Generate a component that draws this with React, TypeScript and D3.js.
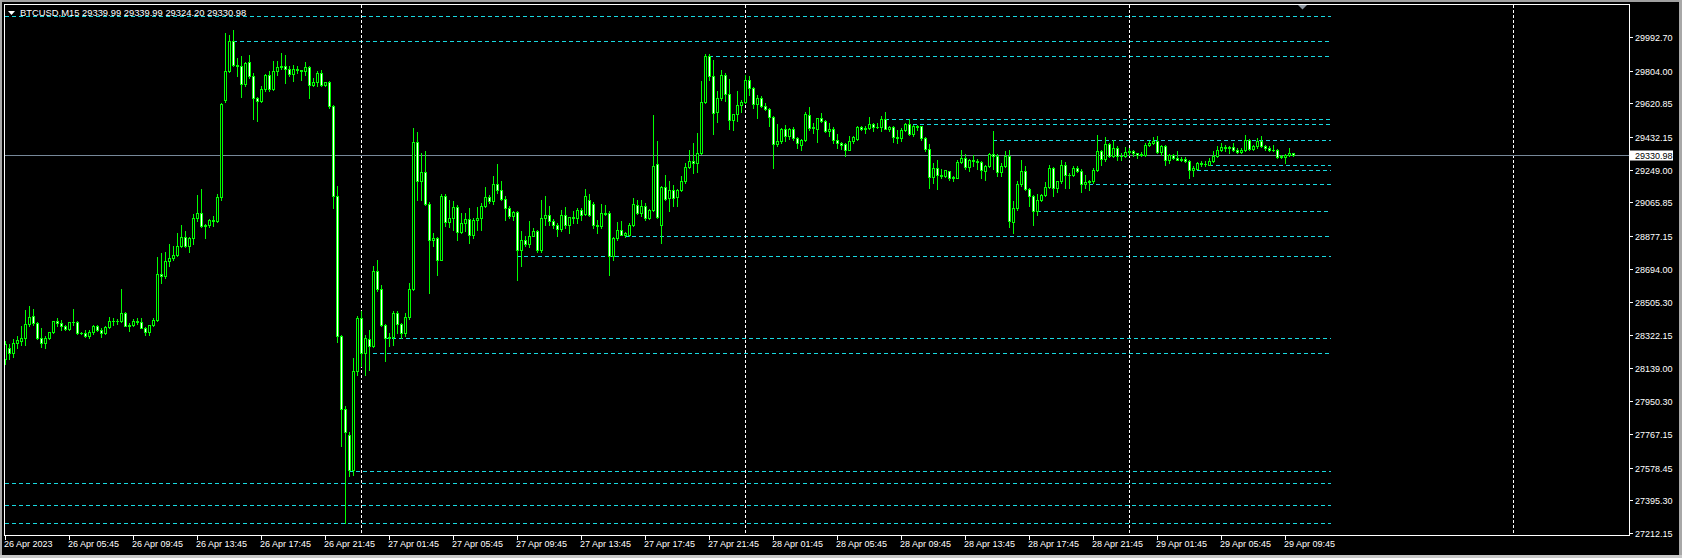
import * as d3 from 'd3';

// M15 bars, 26 Apr 2023 01:45 .. 29 Apr 2023 10:15
const opens = [
  28190,28250,28220,28277,28290,28305,28385,28430,28389,28305,
  28277,28305,28337,28399,28390,28374,28356,28393,28393,28333,
  28336,28314,28337,28374,28348,28333,28367,28399,28402,28399,
  28445,28374,28378,28399,28395,28361,28337,28380,28408,28664,
  28651,28735,28754,28772,28819,28871,28820,28868,28978,29006,
  28931,28940,28968,28960,29096,29641,29800,29970,29837,29830,
  29729,29850,29772,29650,29636,29701,29778,29701,29804,29825,
  29830,29815,29787,29813,29810,29800,29825,29722,29742,29790,
  29722,29740,29604,29099,28318,27907,27763,27567,28118,28417,
  28221,28300,28260,28679,28582,28376,28305,28310,28445,28385,
  28333,28422,28580,29402,29183,29234,29058,28853,28865,28744,
  29099,28954,28978,29039,28897,28950,28974,28884,28969,28978,
  29047,29096,29075,29170,29133,29085,29034,28990,29010,28797,
  28853,28830,28879,28903,28797,28978,28996,28960,28940,28916,
  28996,28940,28983,28978,29025,29003,29081,29058,28940,28935,
  29006,29006,28767,28866,28912,28884,28884,28940,29053,29006,
  29047,28978,29025,29282,28940,29152,29090,29137,29095,29137,
  29183,29264,29295,29286,29342,29628,29888,29772,29570,29650,
  29781,29673,29530,29562,29613,29627,29753,29706,29619,29650,
  29608,29590,29544,29393,29411,29478,29436,29478,29426,29389,
  29417,29553,29482,29476,29538,29520,29464,29478,29413,29398,
  29392,29360,29407,29420,29488,29478,29480,29506,29488,29486,
  29533,29476,29486,29432,29426,29473,29504,29450,29492,29492,
  29426,29364,29210,29258,29221,29216,29240,29206,29202,29292,
  29314,29264,29305,29300,29290,29240,29271,29338,29327,29234,
  29271,29327,28954,29034,29170,29240,29140,29099,29015,29080,
  29109,29152,29258,29146,29183,29277,29221,29217,29258,29243,
  29168,29178,29183,29249,29355,29310,29393,29327,29370,29323,
  29323,29346,29351,29342,29330,29333,29389,29398,29411,29346,
  29380,29301,29333,29314,29305,29310,29300,29245,29254,29286,
  29280,29277,29296,29327,29361,29375,29370,29375,29361,29346,
  29361,29413,29365,29380,29408,29380,29370,29358,29361,29320,
  29318,29333,29339.99,
];

const highs = [
  28290,28270,28300,28318,28370,28464,28486,28468,28395,28361,
  28318,28340,28400,28417,28408,28380,28395,28468,28400,28340,
  28352,28352,28380,28380,28361,28370,28421,28417,28412,28580,
  28450,28389,28410,28417,28417,28365,28380,28417,28759,28782,
  28785,28834,28823,28894,28940,28903,28871,29002,29109,29140,
  28945,28975,28991,29114,29620,30015,30005,30034,29875,29884,
  29850,29893,29790,29655,29720,29785,29800,29856,29856,29903,
  29893,29828,29837,29828,29810,29850,29832,29762,29800,29805,
  29740,29745,29610,29155,28320,27925,27776,28193,28430,28454,
  28320,28352,28707,28744,28600,28385,28333,28454,28454,28390,
  28445,28613,29482,29460,29342,29352,29065,28894,28870,29110,
  29110,29081,29072,29053,29006,29006,29034,28980,29041,29062,
  29152,29106,29215,29283,29183,29100,29045,29015,29015,28903,
  28875,28959,28922,28910,29081,29103,29043,28970,28950,29025,
  29039,28978,29015,29034,29034,29140,29110,29065,28969,29058,
  29053,29015,28870,28954,28959,28900,28950,29090,29081,29081,
  29060,29030,29557,29411,29160,29221,29183,29165,29140,29211,
  29286,29360,29398,29454,29744,29895,29895,29865,29692,29809,
  29790,29759,29560,29688,29640,29781,29776,29710,29669,29664,
  29622,29595,29550,29506,29480,29500,29480,29490,29430,29420,
  29570,29600,29510,29540,29566,29530,29510,29490,29450,29405,
  29400,29436,29440,29495,29495,29495,29544,29510,29510,29550,
  29572,29495,29492,29473,29480,29510,29532,29500,29497,29495,
  29430,29395,29286,29305,29250,29245,29240,29212,29305,29357,
  29338,29310,29333,29310,29295,29275,29345,29467,29335,29286,
  29351,29360,29071,29183,29305,29270,29145,29105,29110,29115,
  29178,29277,29262,29185,29305,29290,29230,29267,29267,29250,
  29221,29190,29258,29445,29362,29432,29400,29415,29383,29342,
  29375,29370,29361,29345,29346,29398,29408,29430,29436,29389,
  29385,29335,29336,29351,29320,29320,29305,29267,29290,29296,
  29296,29315,29351,29380,29398,29385,29380,29398,29370,29370,
  29445,29420,29389,29426,29440,29389,29380,29385,29365,29330,
  29335,29370,29339.99,
];

const lows = [
  28160,28190,28200,28250,28265,28268,28375,28380,28300,28254,
  28249,28300,28333,28370,28352,28350,28352,28380,28330,28328,
  28310,28305,28330,28345,28310,28330,28360,28380,28385,28395,
  28370,28342,28370,28385,28360,28324,28324,28375,28400,28613,
  28640,28707,28745,28765,28815,28815,28785,28834,28959,28925,
  28866,28930,28935,28955,29080,29626,29795,29832,29776,29654,
  29720,29765,29535,29520,29626,29690,29688,29695,29781,29813,
  29735,29772,29744,29790,29753,29781,29650,29716,29716,29716,
  29716,29595,29034,28281,27698,27268,27530,27539,28100,28146,
  28100,28128,28255,28570,28370,28174,28262,28268,28333,28305,
  28315,28410,28575,29081,29081,29050,28557,28820,28660,28740,
  28935,28930,28912,28853,28894,28903,28838,28866,28912,28912,
  29040,29060,29058,29118,29080,28969,28978,28969,28632,28707,
  28820,28818,28875,28790,28790,28940,28940,28921,28875,28903,
  28922,28894,28950,28950,28969,28996,28990,28922,28894,28922,
  28996,28660,28744,28856,28880,28870,28875,28935,29000,28987,
  28969,28970,29020,28978,28838,29080,29015,29043,29043,29130,
  29175,29260,29230,29234,29335,29620,29753,29450,29514,29640,
  29632,29478,29473,29520,29575,29620,29670,29592,29538,29598,
  29581,29492,29258,29380,29398,29407,29420,29417,29370,29360,
  29410,29473,29454,29402,29515,29460,29436,29398,29370,29364,
  29327,29360,29400,29415,29470,29454,29475,29464,29482,29464,
  29476,29464,29402,29398,29408,29468,29445,29436,29473,29417,
  29352,29146,29174,29140,29202,29210,29193,29183,29200,29286,
  29252,29240,29270,29250,29202,29190,29265,29250,29211,29211,
  29265,28927,28894,29025,29160,29135,29043,28940,28996,29075,
  29100,29146,29103,29122,29175,29146,29146,29212,29234,29122,
  29146,29137,29175,29240,29277,29300,29320,29320,29305,29305,
  29320,29333,29327,29314,29323,29323,29380,29393,29342,29333,
  29277,29286,29308,29301,29296,29290,29202,29215,29250,29271,
  29271,29275,29290,29320,29355,29355,29342,29355,29342,29342,
  29355,29361,29361,29370,29375,29361,29355,29355,29314,29314,
  29286,29327,29324.20,
];

const closes = [
  28270,28220,28280,28296,28305,28385,28423,28389,28305,28277,
  28305,28339,28399,28390,28374,28356,28393,28395,28333,28336,
  28314,28337,28374,28348,28333,28367,28399,28402,28399,28445,
  28374,28378,28399,28395,28361,28337,28380,28408,28664,28651,
  28735,28754,28772,28819,28871,28820,28868,28978,29006,28931,
  28940,28968,28960,29096,29617,29800,29970,29837,29830,29729,
  29847,29772,29650,29636,29701,29778,29701,29804,29825,29830,
  29815,29787,29813,29810,29800,29825,29722,29742,29790,29722,
  29740,29604,29099,28318,27907,27776,27567,28118,28417,28221,
  28305,28260,28679,28582,28376,28305,28310,28445,28385,28333,
  28422,28580,29402,29183,29234,29058,28853,28865,28744,29099,
  28954,28978,29039,28897,28950,28974,28884,28969,28978,29047,
  29096,29075,29170,29133,29085,29034,28990,29010,28797,28853,
  28830,28879,28903,28797,28978,28996,28960,28940,28916,28996,
  28940,28983,28978,29025,28996,29099,28996,28940,28935,29006,
  29000,28767,28866,28912,28884,28894,28940,29058,29006,29047,
  28978,29025,29271,28983,29152,29085,29133,29090,29137,29183,
  29264,29295,29286,29342,29628,29888,29772,29566,29650,29781,
  29673,29525,29562,29613,29627,29753,29706,29619,29650,29608,
  29590,29544,29393,29411,29478,29436,29478,29426,29398,29417,
  29563,29482,29488,29538,29520,29464,29478,29413,29398,29389,
  29360,29407,29430,29488,29478,29483,29506,29488,29486,29533,
  29476,29486,29432,29426,29473,29504,29450,29492,29486,29426,
  29364,29208,29258,29221,29216,29245,29202,29202,29292,29314,
  29264,29305,29300,29290,29248,29271,29338,29327,29234,29271,
  29327,28959,29034,29170,29240,29140,29099,29015,29080,29109,
  29152,29258,29146,29183,29277,29221,29217,29258,29240,29168,
  29178,29187,29249,29355,29310,29393,29327,29370,29323,29327,
  29346,29351,29342,29330,29337,29389,29398,29411,29346,29380,
  29301,29333,29314,29305,29310,29300,29245,29258,29286,29280,
  29283,29296,29327,29361,29375,29370,29375,29361,29346,29361,
  29413,29365,29380,29408,29380,29370,29358,29361,29320,29323,
  29333,29342,29330.98,
];

// horizontal levels (price) and the bar each one starts at
const levels = [30112, 29970, 29888, 29533, 29505, 29415, 29275, 29247, 29169, 29017, 28877, 28765, 28305, 28221, 27561, 27492, 27369, 27270];
const levelStart = [0, 57, 176, 220, 227, 247, 301, 298, 271, 258, 155, 128, 95, 92, 86, 0, 0, 0];

// day separators (bar index of 00:00)
const dayBars = [89, 185, 281, 377];

const priceTicks = [29992.70, 29804.00, 29620.85, 29432.15, 29249.00, 29065.85, 28877.15, 28694.00, 28505.30, 28322.15, 28139.00, 27950.30, 27767.15, 27578.45, 27395.30, 27212.15];

const timeLabels = [
  '26 Apr 2023', '26 Apr 05:45', '26 Apr 09:45', '26 Apr 13:45', '26 Apr 17:45', '26 Apr 21:45',
  '27 Apr 01:45', '27 Apr 05:45', '27 Apr 09:45', '27 Apr 13:45', '27 Apr 17:45', '27 Apr 21:45',
  '28 Apr 01:45', '28 Apr 05:45', '28 Apr 09:45', '28 Apr 13:45', '28 Apr 17:45', '28 Apr 21:45',
  '29 Apr 01:45', '29 Apr 05:45', '29 Apr 09:45',
];

const symbol = 'BTCUSD,M15';
const lastPrice = 29330.98;

const W = 1682, H = 558;
const L = 4, T = 4, R = 1629, B = 535;
const FONT = '"Liberation Sans", Arial, sans-serif';
const LIME = '#00ff00';
const CYAN = '#18d8e0';

export default function App() {
  const x = d3.scaleLinear().domain([0, 320]).range([5, 1285]);
  const y = d3.scaleLinear().domain([27212.15, 29992.70]).range([533, 37]);
  const py = (v: number) => Math.round(y(v));
  const fmt = d3.format('.2f');

  const candles = closes.map((c, i) => {
    const o = opens[i], h = highs[i], l = lows[i];
    const cx = Math.round(x(i));
    const top = py(Math.max(o, c)), bot = py(Math.min(o, c));
    const hy = py(h), ly = py(l);
    return (
      <g key={i}>
        <rect x={cx} y={hy} width={1} height={ly - hy + 1} fill={LIME} />
        <rect x={cx - 1} y={top} width={3} height={bot - top + 1} fill={LIME} />
        {bot - top >= 2 && (
          <rect x={cx} y={top + 1} width={1} height={bot - top - 1} fill={c >= o ? '#000' : '#fff'} />
        )}
      </g>
    );
  });

  const ly = py(lastPrice) + 0.5;

  return (
    <>
      <style>{'body{margin:0;background:#000;overflow:hidden}'}</style>
      <svg width={W} height={H} style={{ display: 'block' }} fontFamily={FONT}>
        <rect width={W} height={H} fill="#000" />
        {/* window frame */}
        <rect x={0} y={0} width={W} height={2} fill="#a0a0a0" />
        <rect x={0} y={0} width={2} height={H} fill="#a8a8a8" />
        <rect x={W - 3} y={0} width={3} height={H} fill="#a8a8a8" />
        <rect x={0} y={H - 3} width={W} height={3} fill="#c8c8c8" />

        {/* levels */}
        {levels.map((v, i) => (
          <line key={'lv' + i} x1={Math.round(x(levelStart[i]))} x2={1331} y1={py(v) + 0.5} y2={py(v) + 0.5}
            stroke={CYAN} strokeWidth={1} strokeDasharray="4,3" />
        ))}

        {/* day separators */}
        {dayBars.map((b) => (
          <line key={'d' + b} x1={Math.round(x(b)) + 0.5} x2={Math.round(x(b)) + 0.5} y1={T + 1} y2={B}
            stroke="#fff" strokeWidth={1} strokeDasharray="3,2" />
        ))}

        {/* bid line */}
        <line x1={L} x2={R} y1={ly} y2={ly} stroke="#778899" strokeWidth={1} />

        {candles}

        {/* chart border */}
        <rect x={L + 0.5} y={T + 0.5} width={R - L} height={B - T} fill="none" stroke="#fff" strokeWidth={1} />

        {/* shift marker */}
        <path d="M1298,5 L1307,5 L1302.5,9.5 Z" fill="#8a949e" />

        {/* title */}
        <path d="M8,11 L15,11 L11.5,15 Z" fill="#fff" />
        <text x={20} y={16} fill="#fff" fontSize={9.4}>
          {`${symbol}  ${fmt(opens[opens.length - 1])} ${fmt(highs[highs.length - 1])} ${fmt(lows[lows.length - 1])} ${fmt(closes[closes.length - 1])}`}
        </text>

        {/* price axis */}
        {priceTicks.map((v) => {
          const yy = py(v);
          return (
            <g key={'p' + v}>
              <line x1={R} x2={R + 4} y1={yy + 0.5} y2={yy + 0.5} stroke="#fff" />
              <text x={1635} y={yy + 3.5} fill="#fff" fontSize={9}>{fmt(v)}</text>
            </g>
          );
        })}
        <rect x={1630} y={ly - 5} width={43} height={10} fill="#fff" />
        <text x={1635} y={ly + 3} fill="#000" fontSize={9}>{fmt(lastPrice)}</text>

        {/* time axis */}
        {timeLabels.map((t, i) => {
          const xx = Math.round(x(i * 16));
          return (
            <g key={'t' + i}>
              <line x1={xx + 0.5} x2={xx + 0.5} y1={B} y2={B + 5} stroke="#fff" />
              <text x={xx - 1} y={547} fill="#fff" fontSize={9}>{t}</text>
            </g>
          );
        })}
      </svg>
    </>
  );
}
